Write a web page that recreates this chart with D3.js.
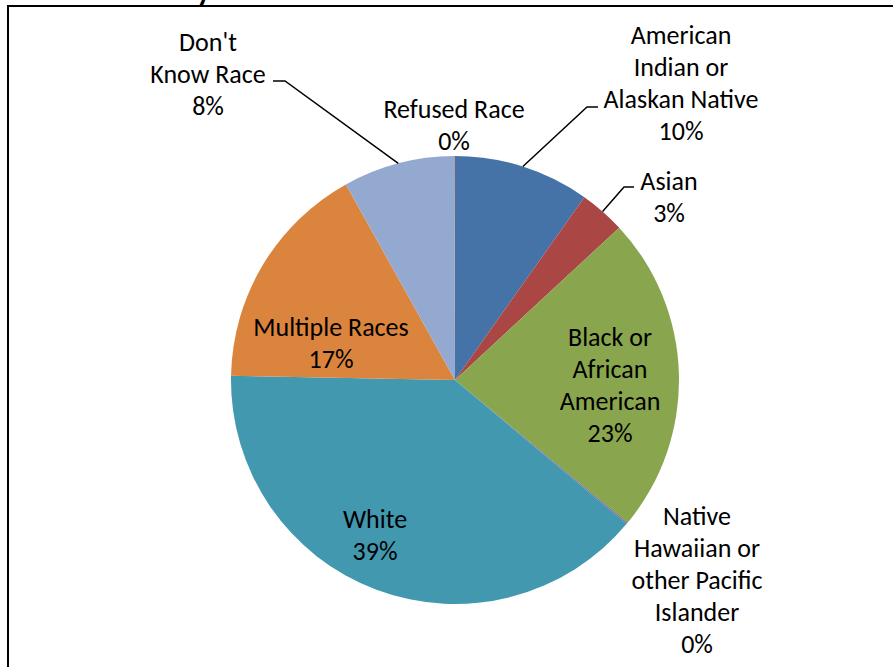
<!DOCTYPE html>
<html>
<head>
<meta charset="utf-8">
<script src="https://cdn.jsdelivr.net/npm/d3@7"></script>
<style>
body { margin: 0; background: #fff; }
svg text { font-family: Carlito, Calibri, Lato, "Open Sans", sans-serif; }
</style>
</head>
<body>
<svg id="mainSvg" width="893" height="667"></svg>
<script>
// race categories, clockwise from 12 o'clock
var categories = [
	["American", "Indian or", "Alaskan Native"],
	["Asian"],
	["Black or", "African", "American"],
	["Native", "Hawaiian or", "other Pacific", "Islander"],
	["White"],
	["Multiple Races"],
	["Don't", "Know Race"],
	["Refused Race"]
];
var values = [9.8, 3.3, 22.9, 0.1, 39.2, 16.6, 8.05, 0.05];
var colors = ["#4572A7", "#AA4643", "#89A54E", "#80699B", "#4198AF", "#DB843D", "#93A9CF", "#A47D7C"];

// where each label block is centred (relative to pie centre) and where its first line sits
var labelAt = [[226, -345], [214, -199], [155, -43], [242, 136], [-80, 139], [-124, -53], [-247, -338], [-1, -271]];
// leader line elbows (null = no leader)
var elbows = [[132, -273, 143], [169, -193, 179], null, null, null, null, [-170, -299, -182], null];

var cx = 455, cy = 380, R = 224, lineH = 32;

var svg = d3.select("#mainSvg");

// cut-off title and chart frame
svg.append("text").attr("x", 26).attr("y", 0)
	.attr("font-size", 30).attr("font-weight", "bold")
	.text("Race Summary");
svg.append("rect").attr("x", 8).attr("y", 6).attr("width", 900).attr("height", 700)
	.attr("fill", "none").attr("stroke", "#000").attr("stroke-width", 2);

var total = d3.sum(values);
var pct = d3.format(".0%");
var pie = d3.pie().sort(null).value(function(d) { return d; });
var arcs = pie(values);
var arc = d3.arc().innerRadius(0).outerRadius(R);

var g = svg.append("g").attr("transform", "translate(" + cx + "," + cy + ")");

g.selectAll("path.slice").data(arcs).enter().append("path")
	.attr("class", "slice")
	.attr("d", arc)
	.attr("fill", function(d, i) { return colors[i]; });

// leader lines
g.selectAll("polyline").data(arcs.filter(function(d, i) { return elbows[i]; })).enter()
	.append("polyline")
	.attr("fill", "none").attr("stroke", "#000").attr("stroke-width", 1.5)
	.attr("points", function(d) {
		var a = (d.startAngle + d.endAngle) / 2;
		var e = elbows[d.index];
		var p0 = [R * Math.sin(a), -R * Math.cos(a)];
		return [p0, [e[0], e[1]], [e[2], e[1]]].map(function(p) { return p.join(","); }).join(" ");
	});

// labels
var lab = g.selectAll("text.lab").data(arcs).enter().append("text")
	.attr("class", "lab")
	.attr("text-anchor", "middle")
	.attr("font-size", 26)
	.attr("fill", "#000")
	.attr("transform", function(d) { return "translate(" + labelAt[d.index][0] + "," + labelAt[d.index][1] + ")"; });

lab.each(function(d) {
	var lines = categories[d.index].concat([pct(d.value / total)]);
	d3.select(this).selectAll("tspan").data(lines).enter().append("tspan")
		.attr("x", 0)
		.attr("y", function(t, j) { return j * lineH; })
		.attr("dy", "0.35em")
		.text(function(t) { return t; });
});
</script>
</body>
</html>
